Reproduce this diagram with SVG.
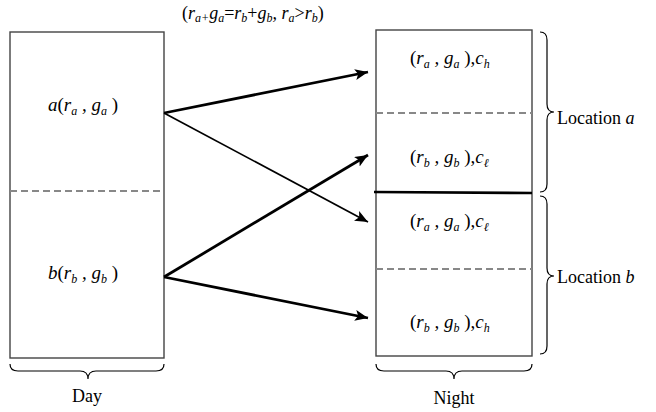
<svg xmlns="http://www.w3.org/2000/svg" width="656" height="412" viewBox="0 0 656 412">
<style>
.box{fill:none;stroke:#444;stroke-width:1.4}
.dash{stroke:#888;stroke-width:2.2;stroke-dasharray:7,4;fill:none}
.brace{fill:none;stroke:#000;stroke-width:1.2}
.t{font-family:"Liberation Serif","Times New Roman",serif;fill:#000;font-size:18px}
.m{font-family:"Liberation Serif","Times New Roman",serif;font-style:italic;font-size:19px;fill:#000}
.up{font-style:normal}
.s{font-size:12px}
.arr{stroke:#000;fill:none}
</style>
<defs>
<marker id="ah" markerUnits="userSpaceOnUse" markerWidth="16" markerHeight="12" refX="13" refY="5.5" orient="auto">
<path d="M0,0 L13,5.5 L0,11 L3,5.5 Z" fill="#000"/>
</marker>
</defs>
<text class="m" x="182" y="19" style="font-size:18px"><tspan class="up">(</tspan>r<tspan class="s" dy="3">a+</tspan><tspan dy="-3">g</tspan><tspan class="s" dy="3">a</tspan><tspan class="up" dy="-3">=</tspan>r<tspan class="s" dy="3">b</tspan><tspan class="up" dy="-3">+</tspan>g<tspan class="s" dy="3">b</tspan><tspan dy="-3">, r</tspan><tspan class="s" dy="3">a</tspan><tspan class="up" dy="-3">&gt;</tspan>r<tspan class="s" dy="3">b</tspan><tspan class="up" dy="-3">)</tspan></text>
<g id="day">
<rect class="box" x="10" y="32" width="154" height="326"/>
<line class="dash" x1="10" y1="191" x2="164" y2="191"/>
<text class="m" x="48" y="111">a<tspan class="up">(</tspan>r<tspan class="s" dy="4">a</tspan><tspan dy="-4"> , g</tspan><tspan class="s" dy="4">a</tspan><tspan class="up" dy="-4"> )</tspan></text>
<text class="m" x="48" y="279">b<tspan class="up">(</tspan>r<tspan class="s" dy="4">b</tspan><tspan dy="-4"> , g</tspan><tspan class="s" dy="4">b</tspan><tspan class="up" dy="-4"> )</tspan></text>
<path class="brace" d="M10,364 Q10,371 18,371 L80,371 Q88,371 88,379 Q88,371 96,371 L156,371 Q164,371 164,364"/>
<text class="t" x="87" y="402" text-anchor="middle">Day</text>
</g>
<g id="night">
<rect class="box" x="376" y="30" width="156" height="326"/>
<line class="dash" x1="376" y1="113" x2="532" y2="113"/>
<line class="dash" x1="376" y1="269" x2="532" y2="269"/>
<line x1="374" y1="192" x2="532" y2="193" stroke="#000" stroke-width="2.6"/>
<text class="m" x="410" y="64"><tspan class="up">(</tspan>r<tspan class="s" dy="4">a</tspan><tspan dy="-4"> , g</tspan><tspan class="s" dy="4">a</tspan><tspan class="up" dy="-4"> ),</tspan>c<tspan class="s" dy="4">h</tspan></text>
<text class="m" x="410" y="163"><tspan class="up">(</tspan>r<tspan class="s" dy="4">b</tspan><tspan dy="-4"> , g</tspan><tspan class="s" dy="4">b</tspan><tspan class="up" dy="-4"> ),</tspan>c<tspan class="s" dy="4">ℓ</tspan></text>
<text class="m" x="410" y="227"><tspan class="up">(</tspan>r<tspan class="s" dy="4">a</tspan><tspan dy="-4"> , g</tspan><tspan class="s" dy="4">a</tspan><tspan class="up" dy="-4"> ),</tspan>c<tspan class="s" dy="4">ℓ</tspan></text>
<text class="m" x="410" y="328"><tspan class="up">(</tspan>r<tspan class="s" dy="4">b</tspan><tspan dy="-4"> , g</tspan><tspan class="s" dy="4">b</tspan><tspan class="up" dy="-4"> ),</tspan>c<tspan class="s" dy="4">h</tspan></text>
<path class="brace" d="M376,364 Q376,371 384,371 L446,371 Q454,371 454,379 Q454,371 462,371 L524,371 Q532,371 532,364"/>
<text class="t" x="454" y="404" text-anchor="middle">Night</text>
</g>
<g id="locA">
<path class="brace" d="M540,32 Q547,32 547,40 L547,104 Q547,112 554,112 Q547,112 547,120 L547,184 Q547,192 540,192"/>
<text class="t" x="557" y="124">Location <tspan font-style="italic">a</tspan></text>
</g>
<g id="locB">
<path class="brace" d="M540,196 Q547,196 547,204 L547,268 Q547,276 554,276 Q547,276 547,284 L547,346 Q547,354 540,354"/>
<text class="t" x="557" y="283">Location <tspan font-style="italic">b</tspan></text>
</g>
<g id="connectors">
<line class="arr" x1="164" y1="113" x2="368" y2="72" stroke-width="2.8" marker-end="url(#ah)"/>
<line class="arr" x1="164" y1="113" x2="368" y2="222" stroke-width="1.7" marker-end="url(#ah)"/>
<line class="arr" x1="164" y1="277" x2="368" y2="155" stroke-width="2.8" marker-end="url(#ah)"/>
<line class="arr" x1="164" y1="277" x2="368" y2="318" stroke-width="2.8" marker-end="url(#ah)"/>
</g>
</svg>
